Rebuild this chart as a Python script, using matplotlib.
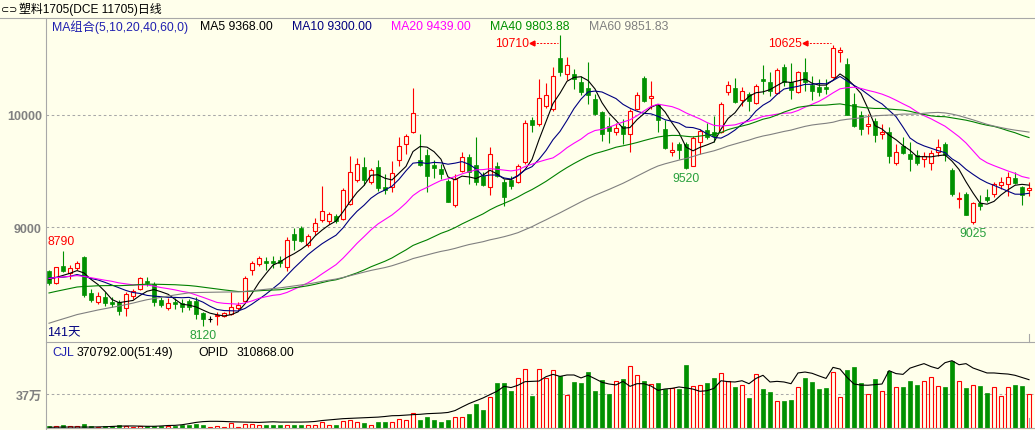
import numpy as np
import pandas as pd
import matplotlib
matplotlib.use("Agg")
import matplotlib.pyplot as plt
from matplotlib.lines import Line2D
from matplotlib.patches import Rectangle

plt.rcParams['font.family'] = ['Liberation Sans', 'Noto Sans CJK SC', 'DejaVu Sans']

# ---- datos ----
opens = [8608, 8507, 8652, 8593, 8635, 8733, 8412, 8332, 8379, 8332,
         8332, 8278, 8385, 8450, 8522, 8492, 8356, 8284, 8332, 8326,
         8341, 8344, 8237, 8183, 8207, 8213, 8228, 8278, 8347, 8620,
         8670, 8700, 8700, 8709, 8650, 8940, 8991, 8845, 8964, 9065,
         9059, 9098, 9074, 9205, 9424, 9534, 9400, 9534, 9362, 9356,
         9599, 9742, 9846, 9599, 9647, 9552, 9519, 9410, 9202, 9504,
         9623, 9555, 9460, 9356, 9543, 9401, 9421, 9401, 9585, 9959,
         9920, 10083, 10053, 10508, 10362, 10365, 10297, 10240, 10143, 10024,
         9900, 9846, 9905, 9828, 10053, 10327, 10148, 10089, 9875, 9668,
         9742, 9742, 9549, 9763, 9867, 9846, 9852, 10202, 10238, 10137,
         10187, 10107, 10321, 10297, 10193, 10425, 10291, 10208, 10380, 10267,
         10246, 10249, 10335, 10564, 10454, 10098, 10000, 9899, 9950, 9828,
         9852, 9572, 9721, 9653, 9644, 9608, 9570, 9668, 9739, 9513,
         9252, 9297, 9050, 9216, 9273, 9297, 9380, 9389, 9439, 9356,
         9335]
highs = [8620, 8650, 8790, 8664, 8700, 8740, 8450, 8421, 8421, 8376,
         8356, 8421, 8450, 8560, 8554, 8510, 8376, 8367, 8367, 8361,
         8361, 8379, 8249, 8213, 8249, 8249, 8421, 8332, 8563, 8703,
         8747, 8738, 8741, 8747, 8911, 8991, 9014, 8940, 9083, 9365,
         9133, 9118, 9347, 9632, 9614, 9623, 9525, 9599, 9475, 9587,
         9801, 9831, 10237, 9831, 9697, 9602, 9564, 9430, 9475, 9668,
         9653, 9801, 9490, 9712, 9579, 9430, 9460, 9564, 9956, 9980,
         10321, 10282, 10430, 10710, 10514, 10410, 10350, 10469, 10187, 10039,
         9979, 9929, 9964, 10053, 10202, 10350, 10306, 10098, 9959, 9757,
         9763, 9757, 9810, 9875, 9929, 9988, 10119, 10306, 10327, 10246,
         10208, 10276, 10445, 10380, 10416, 10454, 10463, 10395, 10505, 10350,
         10321, 10321, 10625, 10603, 10505, 10196, 10039, 10009, 9970, 9920,
         9890, 9742, 9801, 9757, 9691, 9668, 9691, 9786, 9763, 9525,
         9311, 9317, 9228, 9288, 9341, 9400, 9445, 9490, 9490, 9371,
         9400]
lows = [8490, 8495, 8600, 8540, 8623, 8376, 8338, 8314, 8296, 8287,
        8222, 8207, 8362, 8439, 8480, 8302, 8287, 8267, 8272, 8249,
        8267, 8183, 8120, 8154, 8133, 8201, 8219, 8264, 8326, 8575,
        8658, 8623, 8635, 8644, 8614, 8801, 8866, 8822, 8931, 9050,
        9029, 9038, 9065, 9199, 9400, 9377, 9386, 9326, 9297, 9317,
        9543, 9653, 9837, 9543, 9317, 9436, 9430, 9222, 9178, 9490,
        9386, 9377, 9371, 9291, 9445, 9193, 9341, 9395, 9564, 9846,
        9905, 10059, 10039, 10344, 10315, 10232, 10178, 10098, 10000, 9772,
        9751, 9822, 9742, 9674, 10044, 10119, 10053, 9846, 9697, 9638,
        9608, 9520, 9543, 9653, 9786, 9757, 9840, 10178, 10107, 10077,
        10039, 10095, 10187, 10172, 10184, 10261, 10143, 10196, 10217, 10137,
        10172, 10187, 10327, 10475, 9998, 9890, 9822, 9831, 9763, 9786,
        9573, 9555, 9653, 9504, 9555, 9534, 9513, 9638, 9593, 9282,
        9169, 9110, 9025, 9157, 9222, 9267, 9341, 9276, 9386, 9202,
        9282]
closes = [8501, 8643, 8614, 8635, 8679, 8397, 8356, 8385, 8326, 8320,
          8258, 8403, 8436, 8548, 8507, 8332, 8308, 8326, 8320, 8290,
          8290, 8231, 8183, 8183, 8219, 8237, 8287, 8308, 8545, 8679,
          8724, 8685, 8685, 8682, 8884, 8887, 8878, 8920, 9041, 9148,
          9116, 9053, 9332, 9490, 9561, 9424, 9510, 9353, 9335, 9487,
          9727, 9810, 10015, 9558, 9460, 9525, 9472, 9228, 9430, 9623,
          9490, 9400, 9377, 9650, 9460, 9267, 9371, 9543, 9926, 9914,
          10148, 10178, 10344, 10386, 10445, 10321, 10208, 10178, 10009, 9831,
          9860, 9881, 9831, 10039, 10181, 10128, 10166, 9959, 9706, 9691,
          9691, 9525, 9792, 9861, 9801, 9816, 10098, 10267, 10119, 10217,
          10128, 10261, 10306, 10217, 10401, 10297, 10226, 10380, 10297, 10217,
          10208, 10231, 10594, 10579, 10003, 9905, 9875, 9920, 9822, 9852,
          9638, 9668, 9662, 9608, 9573, 9632, 9662, 9712, 9644, 9297,
          9261, 9113, 9216, 9193, 9246, 9386, 9400, 9445, 9394, 9288,
          9350]

# cierres anteriores a la ventana (estimados a partir de MA40 / MA60)
prior_closes = [7450, 7500, 7480, 7520, 7560, 7540, 7580, 7600, 7620, 7590,
                7610, 7640, 7600, 7650, 7680, 7660, 7700, 7690, 7720, 7740,
                8080, 8100, 8120, 8150, 8200, 8250, 8230, 8280, 8300, 8320,
                8290, 8330, 8350, 8380, 8340, 8360, 8400, 8380, 8420, 8450,
                8480, 8500, 8520, 8560, 8540, 8580, 8600, 8560, 8520, 8540,
                8580, 8600, 8560, 8520, 8540, 8560, 8520, 8540, 8560]

# volumen (miles de lotes)
volume_k = [25, 22, 33, 22, 18, 47, 25, 15, 22, 22,
            29, 22, 15, 18, 18, 25, 18, 18, 25, 29,
            29, 44, 36, 15, 22, 15, 54, 15, 40, 44,
            29, 36, 29, 36, 36, 36, 29, 29, 36, 69,
            36, 36, 76, 91, 62, 54, 36, 62, 69, 69,
            94, 83, 163, 91, 116, 83, 62, 91, 120, 120,
            152, 265, 192, 337, 493, 493, 403, 544, 642, 352,
            642, 544, 631, 569, 359, 504, 493, 613, 406, 519,
            374, 508, 537, 678, 580, 515, 482, 493, 424, 435,
            428, 689, 461, 471, 493, 548, 602, 511, 450, 471,
            330, 591, 428, 388, 297, 297, 308, 450, 548, 504,
            428, 439, 609, 341, 635, 667, 493, 374, 537, 406,
            624, 450, 450, 515, 471, 515, 555, 461, 450, 733,
            515, 439, 471, 461, 384, 450, 352, 450, 471, 461,
            370.792]

# posiciones abiertas (miles)
oi_k = [5, 5, 6, 6, 6, 6, 6, 7, 8, 10,
        12, 13, 13, 12, 11, 11, 13, 16, 17, 21,
        28, 36, 41, 43, 43, 42, 40, 39, 38, 37,
        36, 38, 40, 38, 38, 38, 38, 39, 42, 48,
        52, 56, 60, 62, 64, 66, 68, 70, 74, 79,
        80, 83, 86, 88, 92, 94, 96, 100, 112, 135,
        157, 175, 193, 215, 236, 268, 260, 275, 298, 300,
        302, 330, 345, 332, 341, 341, 322, 339, 317, 294,
        283, 277, 300, 268, 285, 285, 270, 242, 251, 255,
        264, 258, 250, 236, 240, 255, 304, 298, 296, 304,
        285, 319, 339, 296, 300, 296, 285, 354, 360, 352,
        335, 319, 390, 379, 326, 283, 276, 275, 279, 283,
        369, 350, 345, 385, 400, 414, 395, 382, 420, 433,
        407, 414, 386, 370, 354, 354, 350, 347, 339, 325,
        310.868]

ma_periods = [5, 10, 20, 40, 60]
ma_colors = ['#000000', '#000080', '#FF00FF', '#008000', '#808080']
ma_header_vals = [9368.00, 9300.00, 9439.00, 9803.88, 9851.83]
high_marks = [2, 73, 112]      # indices de maximos marcados
low_marks = [22, 91, 132]      # indices de minimos marcados

# ---- estilo ----
W, H = 1035, 431
BG = '#FFFFEB'
RED = '#FF0000'
GREEN = '#009100'
FRAME = '#A8A8A8'
PX_X = 1 / 7.0          # velas por pixel
PX_P = 1000 / 112.3     # precio por pixel

def fx(x):
    return x / W

def fy(y):
    return 1 - y / H

n = len(closes)
idx = np.arange(n)

# medias moviles
todos = pd.Series(prior_closes + closes, dtype=float)
mas = {p: todos.rolling(p, min_periods=1).mean().values[len(prior_closes):] for p in ma_periods}

fig = plt.figure(figsize=(W / 100, H / 100), dpi=100, facecolor=BG)

# ---- panel de precio ----
ax = fig.add_axes([fx(46), fy(343), fx(1035) - fx(46), fy(19) - fy(343)])
ax.set_facecolor(BG)
ax.set_xlim((46 - 49) * PX_X, (1035 - 49) * PX_X)
ax.set_ylim(10000 - (343 - 116) * PX_P, 10000 + (116 - 19) * PX_P)
for s in ax.spines.values():
    s.set_visible(False)
ax.set_xticks([])
ax.set_yticks([9000, 10000])
ax.set_yticklabels(['9000', '10000'], fontweight='bold')
ax.tick_params(axis='y', length=0, pad=3, labelcolor='#808080', labelsize=9)
ax.yaxis.grid(True, color='#A8A8A8', linestyle=(0, (2.5, 2.5)), linewidth=0.75)
ax.set_axisbelow(True)

bw = 0.68
for i in range(n):
    o, h, l, c = opens[i], highs[i], lows[i], closes[i]
    if c > o:
        ax.vlines(i, c, h, color=RED, lw=0.8, zorder=2)
        ax.vlines(i, l, o, color=RED, lw=0.8, zorder=2)
        ax.add_patch(Rectangle((i - bw / 2, o), bw, c - o, facecolor=BG,
                               edgecolor=RED, lw=0.8, zorder=3))
    elif c < o:
        ax.vlines(i, l, h, color=GREEN, lw=0.8, zorder=2)
        ax.add_patch(Rectangle((i - bw / 2, c), bw, o - c, facecolor=GREEN,
                               edgecolor=GREEN, lw=0.5, zorder=3))
    else:
        ax.vlines(i, l, h, color='black', lw=0.8, zorder=2)
        ax.hlines(o, i - bw / 2, i + bw / 2, color='black', lw=0.8, zorder=3)

for p, col in zip(ma_periods, ma_colors):
    ax.plot(idx, mas[p], color=col, lw=0.8, zorder=4)

# marcas de maximos / minimos
i0 = high_marks[0]
ax.text(i0 - 0.3, highs[i0] + 10 * PX_P, str(highs[i0]), color=RED,
        fontsize=8.8, ha='center', va='center')
y_top = 10000 - (44 - 116) * PX_P
for i in high_marks[1:]:
    ax.text(i - 31 * PX_X, y_top, str(highs[i]), color=RED, fontsize=8.8,
            ha='right', va='center')
    ax.plot([i - 27 * PX_X, i - 2 * PX_X], [y_top, y_top], color=RED, lw=0.7,
            linestyle=(0, (2, 1.5)))
    ax.plot([i - 28 * PX_X], [y_top], marker='<', color=RED, markersize=3.5)
for i in low_marks:
    ax.text(i, lows[i] - 9 * PX_P, str(lows[i]), color='#28A03C', fontsize=8.8,
            ha='center', va='center')

ax.text((47 - 49) * PX_X, 10000 - (333 - 116) * PX_P, f'{n}天', color='#000080',
        fontsize=9, ha='left', va='center')

# ---- panel de volumen ----
vol = np.array(volume_k) * 1000
ax2 = fig.add_axes([fx(46), fy(429), fx(1035) - fx(46), fy(343) - fy(429)])
ax2.set_facecolor(BG)
ax2.set_xlim(ax.get_xlim())
ax2.set_ylim(0, 86 * 10882)
for s in ax2.spines.values():
    s.set_visible(False)
ax2.set_xticks([])
ax2.set_yticks([370000])
ax2.set_yticklabels(['37万'], fontweight='bold')
ax2.tick_params(axis='y', length=0, pad=3, labelcolor='#808080', labelsize=9)
ax2.yaxis.grid(True, color='#A8A8A8', linestyle=(0, (2.5, 2.5)), linewidth=0.75)
ax2.set_axisbelow(True)

for i in range(n):
    if closes[i] >= opens[i]:
        ax2.add_patch(Rectangle((i - bw / 2, 0), bw, vol[i], facecolor=BG,
                                edgecolor=RED, lw=0.8, zorder=3))
    else:
        ax2.add_patch(Rectangle((i - bw / 2, 0), bw, vol[i], facecolor=GREEN,
                                edgecolor=GREEN, lw=0.5, zorder=3))

ax3 = ax2.twinx()
ax3.set_ylim(0, 86 * 6432)
ax3.set_yticks([])
for s in ax3.spines.values():
    s.set_visible(False)
ax3.plot(idx, np.array(oi_k) * 1000, color='black', lw=0.8, zorder=4)

# ---- marco ----
for (x0, y0, x1, y1) in [(0, 19, W, 19), (46, 19, 46, H), (46, 343, W, 343),
                         (46, 428.5, W, 428.5), (1029, 335, 1029, 343),
                         (1029, 419, 1029, 428)]:
    fig.add_artist(Line2D([fx(x0), fx(x1)], [fy(y0), fy(y1)], color=FRAME, lw=0.8))

# ---- textos de cabecera ----
fig.text(fx(1), fy(9.5), '⊂⊃', fontsize=7, family='DejaVu Sans', va='center')
fig.text(fx(19), fy(9.5), '塑料1705(DCE 11705)日线', fontsize=8.6, va='center')

head_x = [200, 292, 391, 490, 589]
head_cols = ['#000000', '#000080', '#FF00FF', '#009000', '#808080']
fig.text(fx(52), fy(27), 'MA组合(' + ','.join(str(p) for p in ma_periods) + ',0)',
         color='#2020B0', fontsize=8.8, va='center')
for x, p, v, col in zip(head_x, ma_periods, ma_header_vals, head_cols):
    fig.text(fx(x), fy(27), f'MA{p} {v:.2f}', color=col, fontsize=8.8, va='center')

fig.text(fx(52), fy(353), 'CJL', color='#2020B0', fontsize=8.8, va='center')
fig.text(fx(77), fy(353), f'{vol[-1]:.2f}(51:49)', color='black', fontsize=8.8, va='center')
fig.text(fx(198), fy(353), 'OPID', color='black', fontsize=8.8, va='center')
fig.text(fx(237), fy(353), f'{oi_k[-1] * 1000:.2f}', color='black', fontsize=8.8, va='center')

fig.savefig('out.png', dpi=100, facecolor=BG)
